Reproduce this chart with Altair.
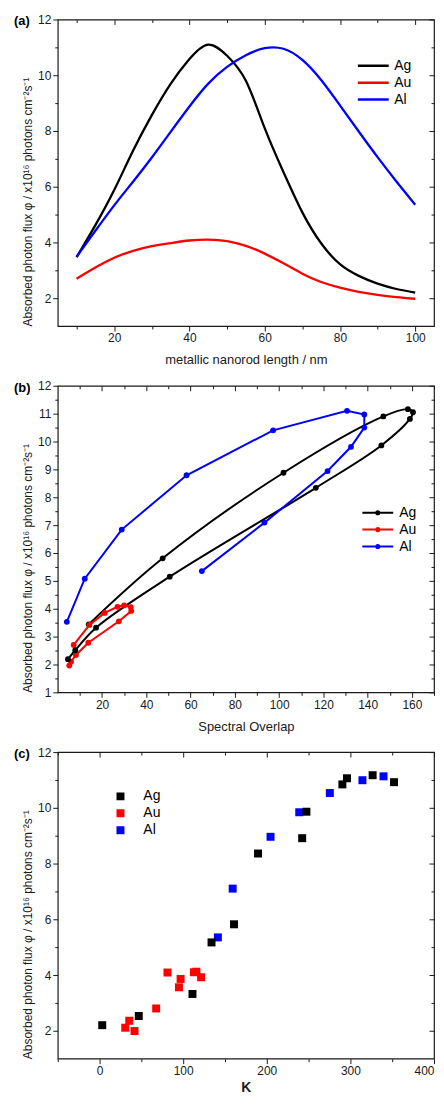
import altair as alt
import pandas as pd

# ---------------- panel (a): flux vs nanorod length ----------------
length_nm = [10, 15, 20, 25, 30, 35, 40, 45, 50, 55, 60, 65, 70, 75, 80, 85, 90, 95, 100]
ag_a = [3.47, 4.62, 5.88, 7.29, 8.57, 9.69, 10.58, 11.10, 10.70, 9.80, 8.10, 6.52, 5.08, 3.97, 3.22, 2.80, 2.52, 2.33, 2.20]
au_a = [2.70, 3.10, 3.45, 3.70, 3.87, 3.98, 4.07, 4.10, 4.05, 3.88, 3.60, 3.25, 2.88, 2.58, 2.38, 2.23, 2.12, 2.04, 1.98]
al_a = [3.49, 4.42, 5.33, 6.18, 7.05, 7.97, 8.88, 9.70, 10.30, 10.72, 10.97, 10.95, 10.55, 9.83, 8.92, 7.98, 7.06, 6.19, 5.35]

# ---------------- panel (b): flux vs spectral overlap ----------------
ag_b_overlap = [14.0, 47.4, 102.0, 147.1, 158.2, 160.5, 159.1, 146.2, 116.6, 50.6, 17.3, 7.9, 4.6]
ag_b_flux = [3.44, 5.81, 8.88, 10.90, 11.16, 11.05, 10.81, 9.86, 8.34, 5.15, 3.32, 2.51, 2.19]
au_b_overlap = [7.2, 14.3, 21.2, 27.0, 30.0, 33.0, 33.2, 27.6, 13.8, 8.2, 6.0, 5.2]
au_b_flux = [2.70, 3.42, 3.85, 4.07, 4.12, 4.06, 3.92, 3.55, 2.78, 2.34, 2.10, 1.96]
al_b_overlap = [4.1, 12.2, 28.9, 58.2, 97.3, 130.7, 138.5, 138.5, 132.5, 121.9, 93.4, 65.1]
al_b_flux = [3.53, 5.08, 6.84, 8.79, 10.40, 11.10, 10.97, 10.50, 9.81, 8.94, 7.09, 5.35]

# ---------------- panel (c): flux vs K ----------------
ag_c_k = [3.2, 46.9, 111.1, 133.9, 160.8, 189.5, 242.3, 247.4, 290.4, 295.9, 326.6, 352.2]
ag_c_flux = [2.20, 2.53, 3.32, 5.17, 5.82, 8.36, 8.91, 9.86, 10.84, 11.06, 11.17, 10.92]
au_c_k = [30.7, 35.5, 41.8, 67.7, 81.2, 94.9, 96.9, 112.8, 115.8, 121.4]
au_c_flux = [2.11, 2.36, 1.99, 2.80, 4.09, 3.56, 3.86, 4.10, 4.12, 3.92]
al_c_k = [141.5, 159.2, 204.5, 238.8, 275.4, 314.4, 339.6]
al_c_flux = [5.35, 7.10, 8.96, 9.84, 10.53, 10.99, 11.13]

metals = ["Ag", "Au", "Al"]
metal_colors = ["#000000", "#ff0000", "#0000ff"]
panel_labels = ["(a)", "(b)", "(c)"]

# axis ticks (major = labelled, minor = unlabelled)
a_x_major = [20, 40, 60, 80, 100]
a_x_minor = [10, 30, 50, 70, 90]
a_y_major = [2, 4, 6, 8, 10, 12]
a_y_minor = [3, 5, 7, 9, 11]
b_x_major = [20, 40, 60, 80, 100, 120, 140, 160]
b_x_minor = [10, 30, 50, 70, 90, 110, 130, 150, 170]
b_y_major = [1, 2, 3, 4, 5, 6, 7, 8, 9, 10, 11, 12]
b_y_minor = [1.5, 2.5, 3.5, 4.5, 5.5, 6.5, 7.5, 8.5, 9.5, 10.5, 11.5]
c_x_major = [0, 100, 200, 300, 400]
c_x_minor = [-50, 50, 150, 250, 350]
c_y_major = [2, 4, 6, 8, 10, 12]
c_y_minor = [3, 5, 7, 9, 11]

FONT = "Liberation Sans"
INK = "#1a1a1a"
W, H = 378, 308
Y_TITLE = "Absorbed photon flux \u03c6 / x10\u00b9\u2076 photons cm\u207b\u00b2s\u207b\u00b9"


def long_table(xs_list, ys_list, xname):
    rows = []
    for metal, xs, ys in zip(metals, xs_list, ys_list):
        for i, (xv, yv) in enumerate(zip(xs, ys)):
            rows.append({xname: xv, "flux": yv, "metal": metal, "idx": i})
    return pd.DataFrame(rows)


df_a = long_table([length_nm] * 3, [ag_a, au_a, al_a], "length")
df_b = long_table([ag_b_overlap, au_b_overlap, al_b_overlap], [ag_b_flux, au_b_flux, al_b_flux], "overlap")
df_c = long_table([ag_c_k, au_c_k, al_c_k], [ag_c_flux, au_c_flux, al_c_flux], "K")


def axis_layers(df, xf, yf, xs, ys, xmaj, xmin, ymaj, ymin, xtitle, xbold=False, xflush=False):
    def host(xaxis, yaxis):
        return alt.Chart(df).mark_point(opacity=0).encode(
            x=alt.X(xf, scale=xs, axis=xaxis), y=alt.Y(yf, scale=ys, axis=yaxis))

    main = host(
        alt.Axis(orient="bottom", values=xmaj, tickSize=5, format="d", labelFlush=xflush,
                 title=xtitle, titleFontWeight="bold" if xbold else "normal",
                 titleFontSize=14 if xbold else 13, labelPadding=2,
                 titlePadding=4 if xbold else 10),
        alt.Axis(orient="left", values=ymaj, tickSize=5, format="d", title=Y_TITLE,
                 titleAnchor="start", titleFontSize=12, labelPadding=2, titlePadding=3),
    )
    minor = host(
        alt.Axis(orient="bottom", values=xmin, tickSize=3, labels=False, title=None),
        alt.Axis(orient="left", values=ymin, tickSize=3, labels=False, title=None),
    )
    mirror_major = host(
        alt.Axis(orient="bottom", offset=-H, values=xmaj, tickSize=5, labels=False, title=None),
        alt.Axis(orient="left", offset=-W, values=ymaj, tickSize=5, labels=False, title=None),
    )
    mirror_minor = host(
        alt.Axis(orient="bottom", offset=-H, values=xmin, tickSize=3, labels=False, title=None),
        alt.Axis(orient="left", offset=-W, values=ymin, tickSize=3, labels=False, title=None),
    )
    return [main, minor, mirror_major, mirror_minor]


def panel_label(txt):
    return alt.Chart(pd.DataFrame({"lab": [txt]})).mark_text(
        align="left", baseline="middle", fontSize=13, fontWeight="bold", font=FONT, color="#000"
    ).encode(text="lab:N", x=alt.value(-44), y=alt.value(2))


color_scale = alt.Scale(domain=metals, range=metal_colors)

# ---------- (a) ----------
xs_a = alt.Scale(domain=[5, 105], nice=False, zero=False)
ys_a = alt.Scale(domain=[1, 12], nice=False, zero=False)

lines_a = alt.Chart(df_a).mark_line(strokeWidth=2.3, interpolate="natural").encode(
    x=alt.X("length:Q", scale=xs_a, axis=None),
    y=alt.Y("flux:Q", scale=ys_a, axis=None),
    color=alt.Color("metal:N", scale=color_scale,
                    legend=alt.Legend(title=None, orient="none", legendX=300, legendY=38,
                                      symbolType="stroke", symbolSize=961, symbolStrokeWidth=2.5,
                                      labelOffset=4)),
    order=alt.Order("idx:Q"),
)
chart_a = alt.layer(
    *axis_layers(df_a, "length:Q", "flux:Q", xs_a, ys_a, a_x_major, a_x_minor, a_y_major, a_y_minor,
                 "metallic nanorod length / nm"),
    lines_a, panel_label(panel_labels[0]),
).resolve_axis(x="independent", y="independent").properties(width=W, height=H)

# ---------- (b) ----------
xs_b = alt.Scale(domain=[0, 170], nice=False, zero=False)
ys_b = alt.Scale(domain=[1, 12], nice=False, zero=False)

dot_line_path = ("M-1,0H1M0.1,0A0.1,0.1,0,1,1,-0.1,0A0.1,0.1,0,1,1,0.1,0"
                 "M0.035,0A0.035,0.035,0,1,1,-0.035,0A0.035,0.035,0,1,1,0.035,0")
leg_b = alt.Legend(title=None, orient="none", legendX=305, legendY=119,
                   symbolType=dot_line_path, symbolSize=961, symbolStrokeWidth=2,
                   labelOffset=5)

enc_b = dict(
    x=alt.X("overlap:Q", scale=xs_b, axis=None),
    y=alt.Y("flux:Q", scale=ys_b, axis=None),
    color=alt.Color("metal:N", scale=color_scale, legend=leg_b),
    order=alt.Order("idx:Q"),
)
base_b = alt.Chart(df_b)
ag_line_b = base_b.transform_filter("datum.metal === 'Ag'").mark_line(
    strokeWidth=2, interpolate="catmull-rom").encode(**enc_b)
other_line_b = base_b.transform_filter("datum.metal !== 'Ag'").mark_line(strokeWidth=2).encode(**enc_b)
dots_b = base_b.mark_circle(size=34, opacity=1).encode(**enc_b)

chart_b = alt.layer(
    *axis_layers(df_b, "overlap:Q", "flux:Q", xs_b, ys_b, b_x_major, b_x_minor, b_y_major, b_y_minor,
                 "Spectral Overlap"),
    ag_line_b, other_line_b, dots_b, panel_label(panel_labels[1]),
).resolve_axis(x="independent", y="independent").properties(width=W, height=H)

# ---------- (c) ----------
xs_c = alt.Scale(domain=[-50, 400], nice=False, zero=False)
ys_c = alt.Scale(domain=[1, 12], nice=False, zero=False)

squares_c = alt.Chart(df_c).mark_square(size=64, opacity=1).encode(
    x=alt.X("K:Q", scale=xs_c, axis=None),
    y=alt.Y("flux:Q", scale=ys_c, axis=None),
    color=alt.Color("metal:N", scale=color_scale,
                    legend=alt.Legend(title=None, orient="none", legendX=56, legendY=36,
                                      symbolType="square", symbolSize=64, symbolStrokeWidth=0,
                                      labelOffset=16)),
    order=alt.Order("idx:Q"),
)
chart_c = alt.layer(
    *axis_layers(df_c, "K:Q", "flux:Q", xs_c, ys_c, c_x_major, c_x_minor, c_y_major, c_y_minor,
                 "K", xbold=True, xflush=True),
    squares_c, panel_label(panel_labels[2]),
).resolve_axis(x="independent", y="independent").properties(width=W, height=H)

chart = alt.vconcat(chart_a, chart_b, chart_c, spacing=60, bounds="flush").resolve_scale(
    color="independent"
).properties(
    padding={"left": 5, "top": 2, "right": 0, "bottom": 0},
    background="white",
).configure_view(
    stroke=INK, strokeWidth=1.2
).configure_axis(
    labelFont=FONT, titleFont=FONT, labelColor=INK, titleColor=INK, tickColor=INK,
    tickWidth=1, grid=False, domain=False, labelFontSize=12, titleFontWeight="normal",
    labelOverlap=False, labelFlush=False,
).configure_legend(
    labelFont=FONT, labelFontSize=14, labelColor="#000", padding=0, rowPadding=0,
    clipHeight=17,
)

chart.save("out.html", embed_options={"renderer": "svg", "actions": False})
